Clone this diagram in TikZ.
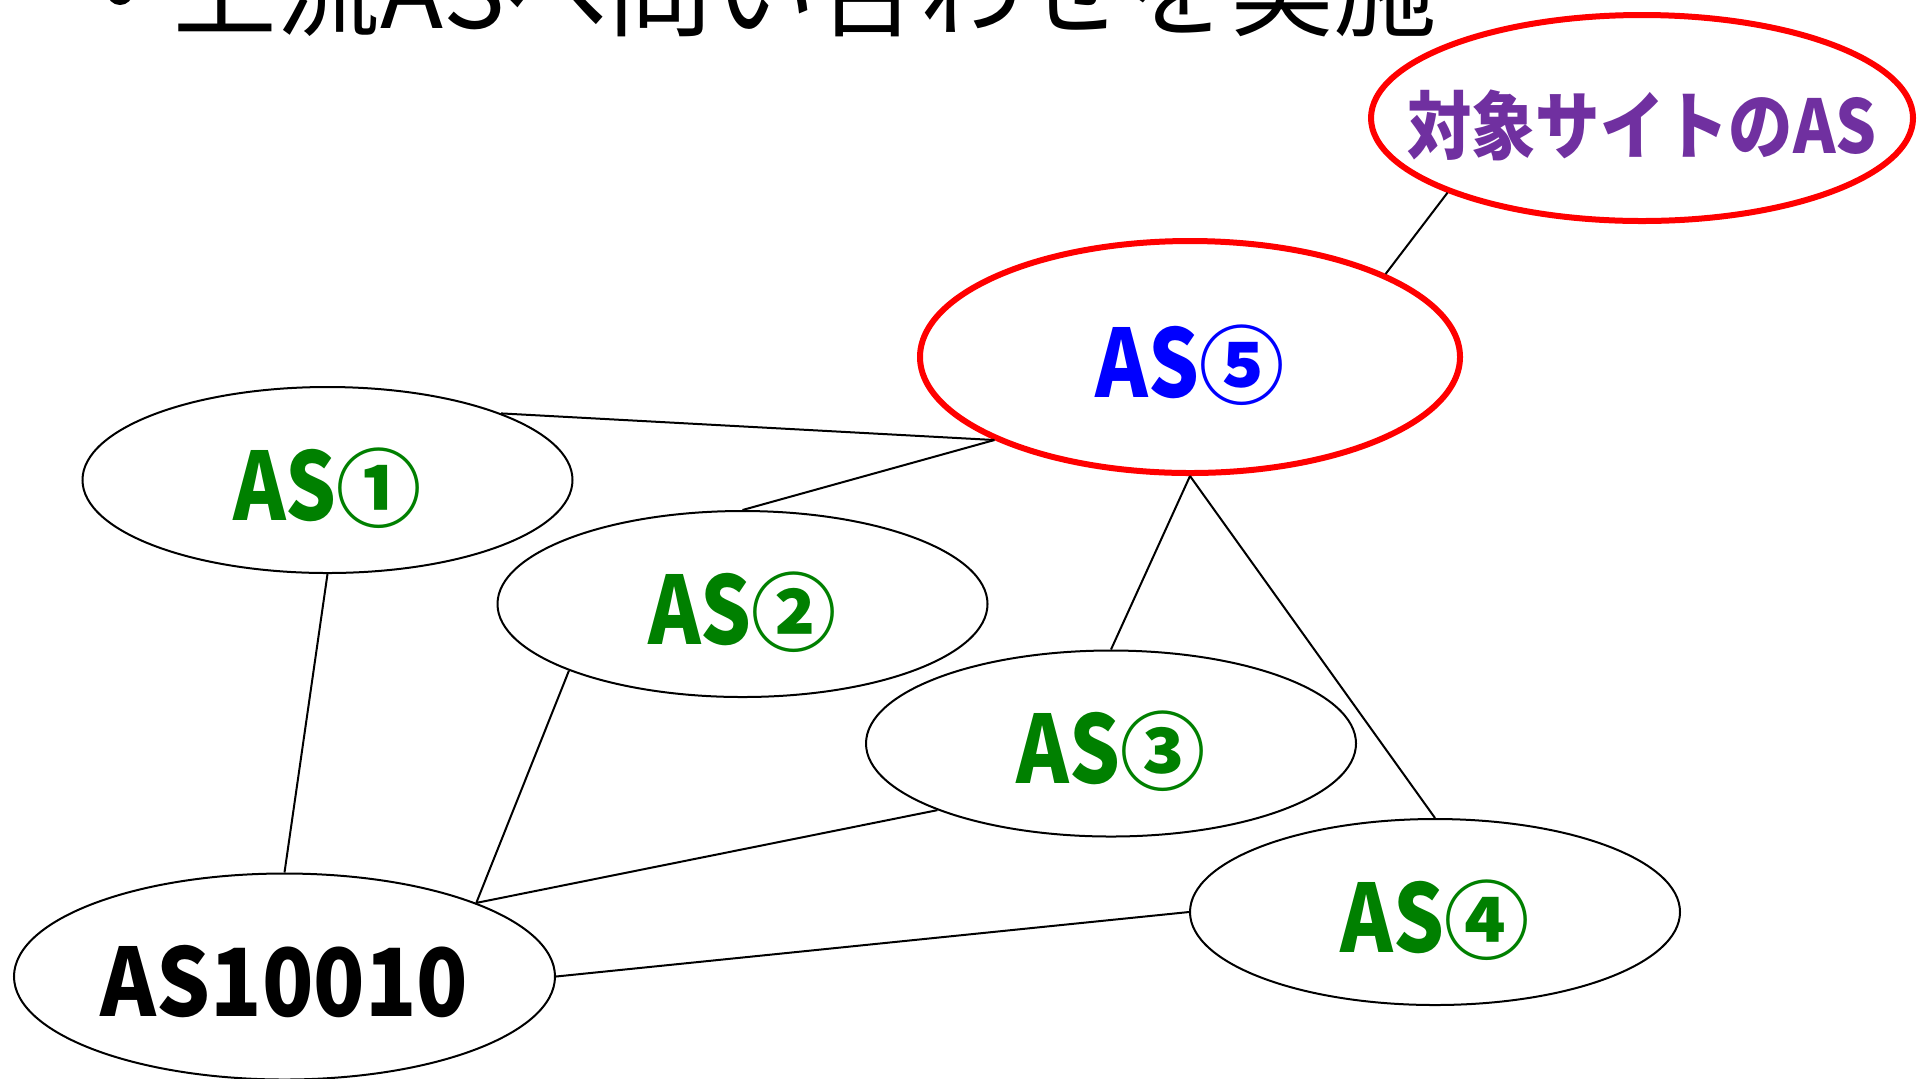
\documentclass[tikz,border=0pt]{standalone}
\usepackage{fontspec}
\usetikzlibrary{shapes.geometric}
\newfontfamily\jp{Noto Sans CJK JP}
\newfontfamily\jpn{Noto Sans CJK JP}[FakeStretch=0.87]
\newfontfamily\jpc{Noto Sans CJK JP}[FakeStretch=0.85]
\newfontfamily\jpx{Noto Sans CJK JP}[FakeStretch=0.9]
\definecolor{asgreen}{RGB}{0,128,0}
\definecolor{asblue}{RGB}{0,0,255}
\definecolor{aspurple}{RGB}{112,48,160}
\definecolor{asred}{RGB}{255,0,0}
\newcommand{\nodelbl}[1]{\makebox[0pt][c]{#1}}
\newcommand{\aslbl}[1]{\nodelbl{{\jpc AS}{\fontsize{42.5pt}{42.5pt}\selectfont #1}}}
\begin{document}
\begin{tikzpicture}[x=0.5pt,y=-0.5pt,
  asnode/.style={ellipse, draw=black, line width=1pt, inner sep=0pt,
    minimum width=245pt, minimum height=93pt,
    text height=40pt, text depth=0pt,
    font=\jp\bfseries\fontsize{47pt}{47pt}\selectfont, text=asgreen},
  hotnode/.style={asnode, draw=asred, line width=3pt},
  link/.style={draw=black, line width=1pt}]
\useasboundingbox (0,0) rectangle (1920,1078);
\clip (0,0) rectangle (1920,1078);
\fill[white] (0,0) rectangle (1920,1078);

\fill[black] (120,-8) circle[radius=13];
\node[anchor=base west, inner sep=0pt, font=\jp\fontsize{51.8pt}{51.8pt}\selectfont] (heading) at (69,28) {\phantom{・}上流ASへ問い合わせを実施};

\node[hotnode, minimum width=271pt, minimum height=103pt, text height=35pt,
  font=\jpn\bfseries\fontsize{37pt}{37pt}\selectfont, text=aspurple] (T) at (1642,118) {\nodelbl{対象サイトのAS}};
\node[hotnode, minimum width=270pt, minimum height=116pt, text=asblue] (AS5) at (1190,357) {\aslbl{⑤}};
\node[asnode] (AS1) at (327.5,480) {\aslbl{①}};
\node[asnode] (AS2) at (742.5,604) {\aslbl{②}};
\node[asnode] (AS3) at (1111,743.5) {\aslbl{③}};
\node[asnode] (AS4) at (1435,912) {\aslbl{④}};
\node[asnode, minimum width=270.5pt, minimum height=103pt, text=black] (AS10) at (284.5,976.5) {\nodelbl{\jpx AS10010}};

\path[link] (T.201) -- (AS5.23.6);
\path[link] (AS1.21) -- (AS5.203);
\path[link] (AS2.north) -- (AS5.203);
\path[link] (AS5.south) -- (AS3.north);
\path[link] (AS5.south) -- (AS4.north);
\path[link] (AS1.south) -- (AS10.north);
\path[link] (AS2.201) -- (AS10.21);
\path[link] (AS3.201) -- (AS10.21);
\path[link] (AS10.east) -- (AS4.west);
\end{tikzpicture}
\end{document}
